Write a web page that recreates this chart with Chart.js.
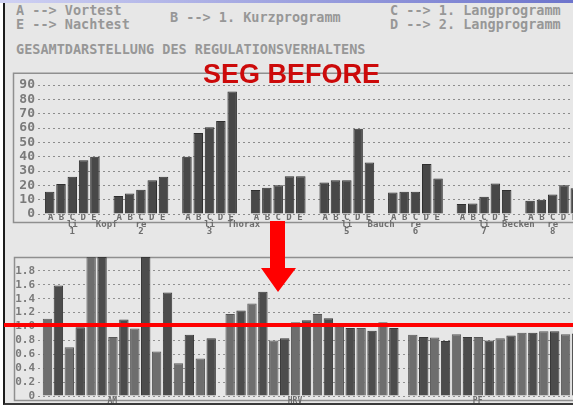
<!DOCTYPE html>
<html>
<head>
<meta charset="utf-8">
<script src="https://cdn.jsdelivr.net/npm/chart.js@4.4.0/dist/chart.umd.min.js"></script>
<style>
  html, body { margin: 0; padding: 0; width: 573px; height: 407px; overflow: hidden; background: #fff; }
  #page { position: absolute; left: 0; top: 0; width: 573px; height: 407px; overflow: hidden; }
  #scan { position: absolute; left: 3px; top: 3px; width: 600px; height: 400px; background: #e7e7e7;
          border-left: 2px solid #1c1c1c; border-bottom: 2px solid #3a3a3a; }
  #band { position: absolute; left: 0; top: 0; width: 573px; height: 3px; background: linear-gradient(90deg, #cfd1f3, #6d74cc); }
  .hdr { position: absolute; font: bold 13.5px "DejaVu Sans Mono", monospace; color: #979797; white-space: pre; line-height: 1; }
  #wrapTop { position: absolute; left: 0; top: 62px; width: 587px; height: 183px; }
  #wrapBot { position: absolute; left: 0; top: 247px; width: 586px; height: 161px; }
  #seg { position: absolute; left: 203px; top: 61px; font: bold 27px "Liberation Sans", Arial, sans-serif; color: #cc0a0a; line-height: 1; white-space: nowrap; }
  #arrow { position: absolute; left: 0; top: 0; }
</style>
</head>
<body>
<div id="page">
  <div id="scan"></div>
  <div id="band"></div>
  <div class="hdr" style="left:16px; top:4px;">A --&gt; Vortest</div>
  <div class="hdr" style="left:170px; top:11px;">B --&gt; 1. Kurzprogramm</div>
  <div class="hdr" style="left:390px; top:4px;">C --&gt; 1. Langprogramm</div>
  <div class="hdr" style="left:16px; top:18px;">E --&gt; Nachtest</div>
  <div class="hdr" style="left:390px; top:18px;">D --&gt; 2. Langprogramm</div>
  <div class="hdr" style="left:16px; top:43px;">GESAMTDARSTELLUNG DES REGULATIONSVERHALTENS</div>
  <div id="wrapTop"><canvas id="chartTop"></canvas></div>
  <div id="wrapBot"><canvas id="chartBot"></canvas></div>
  <div id="seg">SEG BEFORE</div>
  <svg id="arrow" width="573" height="407">
    <polygon points="270,221 285,221 285,268 296,268 278,292 261,268 270,268" fill="#ff0000"/>
  </svg>
</div>
<script>
// top chart: 8 body regions, 5 test phases (A..E)
const GROUP_NUMS = ['1', '2', '3', '4', '5', '6', '7', '8'];
const SIDES = ['li', 're', 'li', 're', 'li', 're', 'li', 're'];
const REGIONS = ['Kopf', 'Thorax', 'Bauch', 'Becken'];
const BAR_LETTERS = 'A B C D E';
const PHASES = ['A', 'B', 'C', 'D', 'E'];
const VALS_A = [15.5, 12.5, 40, 16.7, 22, 15, 7, 9.3];
const VALS_B = [21, 14.4, 56.5, 18.3, 23.6, 15.5, 7.4, 10];
const VALS_C = [26, 17, 60.6, 20.1, 23.6, 15.5, 12, 13.6];
const VALS_D = [37.5, 23.6, 65, 26.4, 59.5, 35, 21.3, 20];
const VALS_E = [40, 26, 85.5, 26.4, 36, 24.8, 16.7, 18];
const Y_TICKS_TOP = [0, 10, 20, 30, 40, 50, 60, 70, 80, 90];
const Y_MAX_TOP = 98.6;

// bottom chart: 3 parameters, 8 pairs each (light / dark)
const PARAMS = ['AM', 'HRV', 'PF'];
const LIGHT_VALS = [1.11, 0.70, 2.0, 0.85, 0.97, 0.64, 0.47, 0.54,
                    1.18, 1.33, 0.80, 1.06, 1.18, 1.01, 0.98, 1.06,
                    0.88, 0.84, 0.89, 0.85, 0.83, 0.91, 0.93, 0.89];
const DARK_VALS = [1.59, 0.99, 2.0, 1.10, 2.0, 1.49, 0.88, 0.83,
                   1.23, 1.50, 0.83, 1.09, 1.12, 0.98, 0.94, 0.98,
                   0.85, 0.79, 0.85, 0.80, 0.87, 0.91, 0.93, 0.90];
const Y_TICKS_BOT = [0, 0.2, 0.4, 0.6, 0.8, 1.0, 1.2, 1.4, 1.6, 1.8];
const Y_MAX_BOT = 2.0;
const REF_LEVEL = 1.02;

const MONO = '"DejaVu Sans Mono", monospace';

// frame around each printout chart
const framePlugin = {
    id: 'frame',
    beforeDraw(chart, args, opts) {
        const { ctx, chartArea } = chart;
        const bottom = chartArea.bottom + opts.below;
        ctx.save();
        ctx.strokeStyle = opts.color;
        ctx.lineWidth = opts.width;
        ctx.beginPath();
        ctx.moveTo(chart.width + 5, chartArea.top + 0.5);
        ctx.lineTo(opts.left + 0.5, chartArea.top + 0.5);
        ctx.lineTo(opts.left + 0.5, bottom + 0.5);
        ctx.lineTo(chart.width + 5, bottom + 0.5);
        ctx.stroke();
        ctx.restore();
    }
};

const refLinePlugin = {
    id: 'refLine',
    afterDatasetsDraw(chart, args, opts) {
        if (opts.value == null) return;
        const y = chart.scales.y.getPixelForValue(opts.value);
        const ctx = chart.ctx;
        ctx.save();
        ctx.strokeStyle = opts.color;
        ctx.lineWidth = opts.width;
        ctx.beginPath();
        ctx.moveTo(opts.from, y);
        ctx.lineTo(chart.width, y);
        ctx.stroke();
        ctx.restore();
    }
};

const topSeries = [VALS_A, VALS_B, VALS_C, VALS_D, VALS_E];
const tickFont = { family: MONO, size: 9, weight: 'bold', lineHeight: 0.78 };

new Chart(document.getElementById('chartTop'), {
    type: 'bar',
    data: {
        labels: GROUP_NUMS.map((n, i) => [BAR_LETTERS, SIDES[i], n]),
        datasets: PHASES.map((p, i) => ({
            label: p,
            data: topSeries[i],
            backgroundColor: '#484848',
            borderColor: '#2f2f2f',
            borderWidth: 1,
            categoryPercentage: 0.824,
            barPercentage: 0.84
        }))
    },
    options: {
        responsive: true,
        maintainAspectRatio: false,
        animation: false,
        layout: { padding: { top: 10, left: 0, right: 0, bottom: 0 } },
        plugins: {
            legend: { display: false },
            tooltip: { enabled: false },
            frame: { left: 13, below: 8, color: '#8f8f8f', width: 1.5 }
        },
        scales: {
            x: {
                grid: { display: false, drawTicks: false },
                border: { display: false },
                ticks: { color: '#6e6e6e', padding: 0, autoSkip: false, maxRotation: 0, font: tickFont },
                afterFit: s => { s.height = 31; }
            },
            x2: {
                type: 'category',
                labels: REGIONS,
                position: 'bottom',
                weight: 1,
                offset: true,
                grid: { display: false, drawTicks: false },
                border: { display: false },
                ticks: { color: '#6e6e6e', padding: 17, mirror: true, autoSkip: false, maxRotation: 0, font: tickFont },
                afterFit: s => { s.height = 0; }
            },
            y: {
                min: 0,
                max: Y_MAX_TOP,
                afterBuildTicks: axis => { axis.ticks = Y_TICKS_TOP.map(v => ({ value: v })); },
                grid: { color: '#8c8c8c', lineWidth: 1, drawTicks: false },
                border: { display: false, dash: [2, 3] },
                ticks: { color: '#7a7a7a', padding: 3, autoSkip: false, font: { family: MONO, size: 13, weight: 'bold' } },
                afterFit: s => { s.width = 38; }
            }
        }
    },
    plugins: [framePlugin]
});

const botDatasets = [];
for (let k = 0; k < 8; k++) {
    botDatasets.push({
        label: 'hell ' + (k + 1),
        data: PARAMS.map((_, g) => LIGHT_VALS[g * 8 + k]),
        backgroundColor: '#6e6e6e',
        borderColor: '#575757',
        borderWidth: 1,
        categoryPercentage: 0.956,
        barPercentage: 0.86
    });
    botDatasets.push({
        label: 'dunkel ' + (k + 1),
        data: PARAMS.map((_, g) => DARK_VALS[g * 8 + k]),
        backgroundColor: '#4c4c4c',
        borderColor: '#383838',
        borderWidth: 1,
        categoryPercentage: 0.956,
        barPercentage: 0.86
    });
}

new Chart(document.getElementById('chartBot'), {
    type: 'bar',
    data: { labels: PARAMS, datasets: botDatasets },
    options: {
        responsive: true,
        maintainAspectRatio: false,
        animation: false,
        layout: { padding: { top: 10, left: 0, right: 0, bottom: 0 } },
        plugins: {
            legend: { display: false },
            tooltip: { enabled: false },
            frame: { left: 14, below: 4, color: '#8f8f8f', width: 1.5 },
            refLine: { value: REF_LEVEL, color: '#ff0000', width: 4, from: 4 }
        },
        scales: {
            x: {
                grid: { display: false, drawTicks: false },
                border: { display: false },
                ticks: { color: '#6e6e6e', padding: 1, labelOffset: -17, autoSkip: false, maxRotation: 0,
                         font: { family: MONO, size: 8, weight: 'bold', lineHeight: 1 } },
                afterFit: s => { s.height = 12; }
            },
            y: {
                min: 0,
                max: Y_MAX_BOT,
                afterBuildTicks: axis => { axis.ticks = Y_TICKS_BOT.map(v => ({ value: v })); },
                grid: { color: '#909090', lineWidth: 1, drawTicks: false },
                border: { display: false, dash: [2, 3] },
                ticks: { color: '#7a7a7a', padding: 3, autoSkip: false, font: { family: MONO, size: 11, weight: 'bold' },
                         callback: v => v === 0 ? '0' : v.toFixed(1) },
                afterFit: s => { s.width = 38; }
            }
        }
    },
    plugins: [framePlugin, refLinePlugin]
});
</script>
</body>
</html>
